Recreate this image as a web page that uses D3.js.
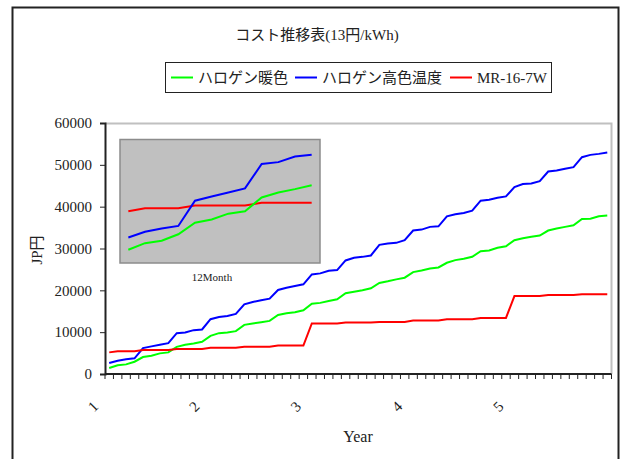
<!DOCTYPE html>
<html lang="ja">
<head>
    <meta charset="UTF-8">
    <title>コスト推移表</title>
    <style>
        body, html {
            margin: 0;
            padding: 0;
            width: 100%;
            height: 100%;
            overflow: hidden;
            background-color: #fff;
        }
        text {
            font-family: 'Liberation Serif', 'Noto Sans CJK JP', serif;
            fill: #222;
        }
    </style>
</head>
<body>
<div id="chart"></div>

<script src="https://d3js.org/d3.v7.min.js"></script>
<script>
    // months 1..60, year labels every 12 months
    const months = d3.range(1, 61);
    const yearLabels = ["1", "2", "3", "4", "5"];
    const yTicks = [0, 10000, 20000, 30000, 40000, 50000, 60000];

    const seriesNames = ["ハロゲン暖色", "ハロゲン高色温度", "MR-16-7W"];
    const seriesColors = ["#00ff00", "#0000ff", "#ff0000"];

    const warm = [
        1430, 2070, 2300, 2930, 4050, 4360, 4930, 5170, 6500, 6980, 7310, 7690,
        9120, 9760, 9930, 10240, 11740, 12070, 12380, 12690, 14120, 14520, 14760, 15240,
        16800, 17000, 17450, 17860, 19290, 19650, 20000, 20500, 21750, 22150, 22620, 23020,
        24360, 24760, 25240, 25480, 26590, 27220, 27540, 28020, 29360, 29520, 30170, 30550,
        31980, 32450, 32790, 33100, 34290, 34760, 35170, 35550, 37070, 37140, 37690, 37860
    ];
    const highTemp = [
        2620, 3170, 3500, 3740, 6190, 6600, 6980, 7380, 9760, 9930, 10480, 10640,
        13100, 13640, 13880, 14360, 16670, 17210, 17620, 18020, 20080, 20630, 21030, 21430,
        23810, 24050, 24690, 24840, 27140, 27780, 28000, 28330, 30880, 31190, 31350, 31980,
        34290, 34520, 35170, 35310, 37690, 38170, 38500, 39050, 41430, 41670, 42140, 42460,
        44690, 45400, 45550, 46110, 48410, 48650, 49050, 49450, 51830, 52380, 52620, 52930
    ];
    const mr16 = [
        5170, 5450, 5450, 5450, 5720, 5720, 5720, 5720, 5990, 5990, 5990, 5990,
        6260, 6260, 6260, 6260, 6530, 6530, 6530, 6530, 6800, 6800, 6800, 6800,
        12070, 12070, 12070, 12070, 12300, 12300, 12300, 12300, 12450, 12450, 12450, 12450,
        12780, 12780, 12780, 12780, 13100, 13100, 13100, 13100, 13400, 13400, 13400, 13400,
        18640, 18640, 18640, 18640, 18880, 18880, 18880, 18880, 19050, 19050, 19050, 19050
    ];
    const allSeries = [warm, highTemp, mr16];

    const width = 621, height = 459;

    const svg = d3.select("#chart")
        .append("svg")
        .attr("width", width)
        .attr("height", height);

    // outer frame
    svg.append("rect")
        .attr("x", 12.5).attr("y", 7.5)
        .attr("width", 606).attr("height", 470)
        .attr("fill", "none")
        .attr("stroke", "#222")
        .attr("stroke-width", 2);

    // title
    svg.append("text")
        .attr("x", 317).attr("y", 40)
        .attr("text-anchor", "middle")
        .style("font-size", "15px")
        .text("コスト推移表(13円/kWh)");

    // legend
    const legend = svg.append("g");
    legend.append("rect")
        .attr("x", 165.5).attr("y", 62.5)
        .attr("width", 386).attr("height", 30)
        .attr("fill", "#fff")
        .attr("stroke", "#222");
    const legendLineX = [171, 295, 450];
    seriesNames.forEach((name, i) => {
        legend.append("line")
            .attr("x1", legendLineX[i]).attr("x2", legendLineX[i] + 22)
            .attr("y1", 77.5).attr("y2", 77.5)
            .attr("stroke", seriesColors[i])
            .attr("stroke-width", 2);
        legend.append("text")
            .attr("x", legendLineX[i] + 27).attr("y", 83)
            .style("font-size", "15px")
            .text(name);
    });

    // main plot
    const plot = { left: 105, right: 611.5, top: 123, bottom: 374 };

    const x = d3.scaleBand()
        .domain(months)
        .range([plot.left, plot.right]);
    const y = d3.scaleLinear()
        .domain([0, 60000])
        .range([plot.bottom, plot.top]);

    // gray frame on top and right
    svg.append("path")
        .attr("d", `M${plot.left},${plot.top + 0.5}H${plot.right}V${plot.bottom}`)
        .attr("fill", "none")
        .attr("stroke", "#c0c0c0")
        .attr("stroke-width", 2);

    // y axis
    const yAxis = svg.append("g")
        .attr("transform", `translate(${plot.left},0)`)
        .call(d3.axisLeft(y).tickValues(yTicks).tickSize(5).tickPadding(8).tickFormat(d3.format("d")));
    yAxis.select(".domain").attr("stroke", "#222").attr("stroke-width", 2);
    yAxis.selectAll(".tick line").attr("stroke", "#222");
    yAxis.selectAll("text")
        .style("font-family", "'Liberation Serif', serif")
        .style("font-size", "15px")
        .attr("fill", "#333");

    // x axis: ticks at every month boundary
    const boundaries = d3.range(0, 61).map(i => plot.left + i * x.step());
    const xAxis = svg.append("g");
    xAxis.append("line")
        .attr("x1", plot.left).attr("x2", plot.right)
        .attr("y1", plot.bottom).attr("y2", plot.bottom)
        .attr("stroke", "#222").attr("stroke-width", 2);
    xAxis.selectAll(".mtick")
        .data(boundaries)
        .enter().append("line")
        .attr("class", "mtick")
        .attr("x1", d => d).attr("x2", d => d)
        .attr("y1", plot.bottom).attr("y2", plot.bottom + 5)
        .attr("stroke", "#222");

    xAxis.selectAll(".ylabel")
        .data(yearLabels)
        .enter().append("text")
        .attr("class", "ylabel")
        .attr("text-anchor", "middle")
        .attr("transform", (d, i) => {
            const cx = x(1 + i * 12) + x.bandwidth() / 2 - 12.5;
            return `translate(${cx},410) rotate(-45)`;
        })
        .style("font-size", "15px")
        .attr("fill", "#333")
        .text(d => d);

    // axis titles
    svg.append("text")
        .attr("x", 358).attr("y", 442)
        .attr("text-anchor", "middle")
        .style("font-size", "16px")
        .text("Year");
    svg.append("text")
        .attr("transform", "translate(42,250) rotate(-90)")
        .attr("text-anchor", "middle")
        .style("font-size", "15px")
        .text("JP円");

    // series lines
    const line = d3.line()
        .x((d, i) => x(months[i]) + x.bandwidth() / 2)
        .y(d => y(d));
    allSeries.forEach((s, i) => {
        svg.append("path")
            .datum(s)
            .attr("fill", "none")
            .attr("stroke", seriesColors[i])
            .attr("stroke-width", 2)
            .attr("d", line);
    });

    // inset: first 12 months
    const inset = { left: 120, right: 320, top: 139.5, bottom: 263 };
    const firstYear = months.slice(0, 12);
    const ix = d3.scaleBand()
        .domain(firstYear)
        .range([inset.left, inset.right]);
    const iy = d3.scaleLinear()
        .domain([0, 12000])
        .range([264.5, 140.8]);

    svg.append("rect")
        .attr("x", inset.left).attr("y", inset.top)
        .attr("width", inset.right - inset.left)
        .attr("height", inset.bottom - inset.top)
        .attr("fill", "#c0c0c0")
        .attr("stroke", "#8c8c8c")
        .attr("stroke-width", 1.5);

    const insetLine = d3.line()
        .x((d, i) => ix(firstYear[i]) + ix.bandwidth() / 2)
        .y(d => iy(d));
    [mr16, highTemp, warm].forEach(s => {
        const i = allSeries.indexOf(s);
        svg.append("path")
            .datum(s.slice(0, 12))
            .attr("fill", "none")
            .attr("stroke", seriesColors[i])
            .attr("stroke-width", 2)
            .attr("d", insetLine);
    });

    svg.append("text")
        .attr("x", 212).attr("y", 281)
        .attr("text-anchor", "middle")
        .style("font-size", "11px")
        .text("12Month");
</script>
</body>
</html>
